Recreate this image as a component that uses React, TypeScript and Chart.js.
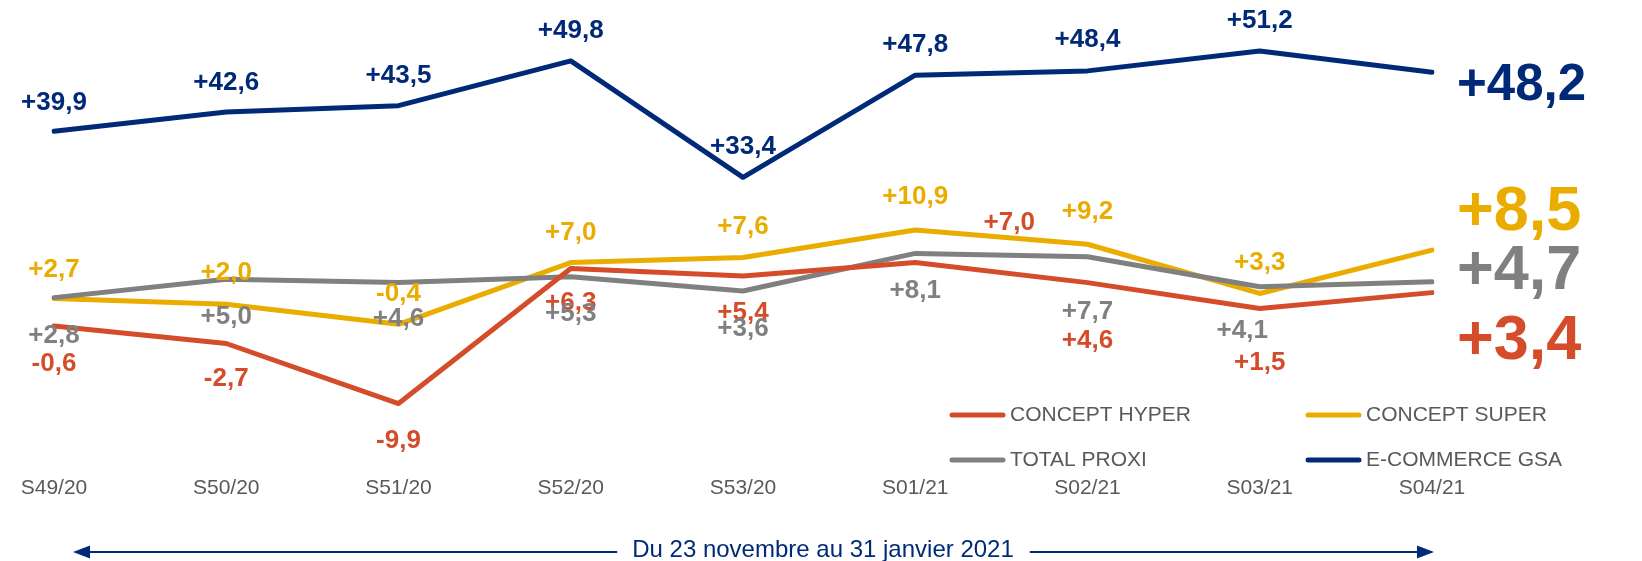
import React, { useEffect, useRef } from 'react';
import { Chart, registerables } from 'chart.js';

Chart.register(...registerables);

// ---------- data ----------
const weeks = ['S49/20', 'S50/20', 'S51/20', 'S52/20', 'S53/20', 'S01/21', 'S02/21', 'S03/21', 'S04/21'];
const conceptHyper = [-0.6, -2.7, -9.9, 6.3, 5.4, 7.0, 4.6, 1.5, 3.4];
const conceptSuper = [2.7, 2.0, -0.4, 7.0, 7.6, 10.9, 9.2, 3.3, 8.5];
const totalProxi = [2.8, 5.0, 4.6, 5.3, 3.6, 8.1, 7.7, 4.1, 4.7];
const ecommerceGsa = [39.9, 42.6, 43.5, 49.8, 33.4, 47.8, 48.4, 51.2, 48.2];
const seriesNames = ['CONCEPT HYPER', 'CONCEPT SUPER', 'TOTAL PROXI', 'E-COMMERCE GSA'];
const periodText = 'Du 23 novembre au 31 janvier 2021';

// ---------- styles ----------
const NAVY = '#002A78';
const YELLOW = '#EBAC00';
const RED = '#D44C2A';
const GRAY = '#808080';
const TEXT_GRAY = '#595959';
const FONT = '"Liberation Sans", Arial, Helvetica, sans-serif';

// label placement (pixel offsets of value labels from their point)
const labelOffsets = [
  { dx: [0, 0, 0, 0, 0, 94, 0, 0], dy: [38, 35, 37, 34, 37, -40, 58.5, 54.5] },
  { dx: [0, 0, 0, 0, 0, 0, 0, 0], dy: [-28.5, -31.8, -30, -30, -31, -33, -32, -31] },
  { dx: [0, 0, 0, 0, 0, 0, 0, -17.5], dy: [38.4, 37.4, 36.4, 37, 38, 37.4, 54.7, 44] },
  { dx: [0, 0, 0, 0, 0, 0, 0, 0], dy: [-28, -29, -30, -30, -30.6, -30.5, -31, -30] },
];
const endLabelDx = 25;
const endLabelDy = [49.4, -37.8, -9.8, 13.7];
const endLabelSizes = [63, 63, 63, 51];
const labelDrawOrder = [0, 1, 2, 3];

const fmt = (v: number) => (v > 0 ? '+' : '') + v.toFixed(1).replace('.', ',');

const valueLabelsPlugin = {
  id: 'valueLabels',
  afterDatasetsDraw(chart: any) {
    const ctx = chart.ctx;
    ctx.save();
    ctx.textBaseline = 'middle';
    for (const i of labelDrawOrder) {
      const ds = chart.data.datasets[i];
      const pts = chart.getDatasetMeta(i).data;
      const off = labelOffsets[i];
      const n = pts.length;
      ctx.fillStyle = ds.borderColor;
      ctx.font = `bold 26px ${FONT}`;
      ctx.textAlign = 'center';
      for (let j = 0; j < n - 1; j++) {
        const p = pts[j];
        ctx.fillText(fmt(ds.data[j]), p.x + off.dx[j], p.y + off.dy[j]);
      }
      const last = pts[n - 1];
      ctx.font = `bold ${endLabelSizes[i]}px ${FONT}`;
      ctx.textAlign = 'left';
      ctx.fillText(fmt(ds.data[n - 1]), last.x + endLabelDx, last.y + endLabelDy[i]);
    }
    ctx.restore();
  },
};

const legendGrid = [
  { ds: 0, col: 0, row: 0 },
  { ds: 1, col: 1, row: 0 },
  { ds: 2, col: 0, row: 1 },
  { ds: 3, col: 1, row: 1 },
];

const extrasPlugin = {
  id: 'extras',
  afterDraw(chart: any) {
    const ctx = chart.ctx;
    const area = chart.chartArea;
    ctx.save();
    // legend
    const colX = [area.right - 482, area.right - 126];
    const rowY = [area.bottom - 58, area.bottom - 13];
    ctx.font = `21px ${FONT}`;
    ctx.textBaseline = 'middle';
    ctx.textAlign = 'left';
    for (const item of legendGrid) {
      const ds = chart.data.datasets[item.ds];
      const x = colX[item.col];
      const y = rowY[item.row];
      ctx.strokeStyle = ds.borderColor;
      ctx.lineWidth = 5;
      ctx.lineCap = 'round';
      ctx.beginPath();
      ctx.moveTo(x + 2, y);
      ctx.lineTo(x + 53, y);
      ctx.stroke();
      ctx.fillStyle = TEXT_GRAY;
      ctx.fillText(ds.label, x + 60, y);
    }
    // period arrow
    const ay = area.bottom + 79;
    const leftTip = area.left + 19;
    const rightTip = area.right + 2;
    const textX = area.left + 769;
    ctx.font = `24px ${FONT}`;
    const tw = ctx.measureText(periodText).width;
    ctx.fillStyle = NAVY;
    ctx.strokeStyle = NAVY;
    ctx.lineWidth = 2;
    ctx.lineCap = 'butt';
    ctx.beginPath();
    ctx.moveTo(leftTip + 15, ay);
    ctx.lineTo(textX - tw / 2 - 15, ay);
    ctx.moveTo(textX + tw / 2 + 16, ay);
    ctx.lineTo(rightTip - 15, ay);
    ctx.stroke();
    ctx.beginPath();
    ctx.moveTo(leftTip, ay);
    ctx.lineTo(leftTip + 17, ay - 6.5);
    ctx.lineTo(leftTip + 17, ay + 6.5);
    ctx.closePath();
    ctx.fill();
    ctx.beginPath();
    ctx.moveTo(rightTip, ay);
    ctx.lineTo(rightTip - 17, ay - 6.5);
    ctx.lineTo(rightTip - 17, ay + 6.5);
    ctx.closePath();
    ctx.fill();
    ctx.textAlign = 'center';
    ctx.fillText(periodText, textX, ay - 2);
    ctx.restore();
  },
};

export default function App() {
  const canvasRef = useRef<HTMLCanvasElement | null>(null);

  useEffect(() => {
    const canvas = canvasRef.current;
    if (!canvas) return;
    const lineStyle = {
      borderWidth: 5,
      pointRadius: 0,
      pointHoverRadius: 0,
      borderCapStyle: 'round' as const,
      borderJoinStyle: 'round' as const,
      tension: 0,
      fill: false,
    };
    const chart = new Chart(canvas, {
      type: 'line',
      data: {
        labels: weeks,
        datasets: [
          { ...lineStyle, label: seriesNames[0], data: conceptHyper, borderColor: RED, backgroundColor: RED, yAxisID: 'y2', order: 0 },
          { ...lineStyle, label: seriesNames[1], data: conceptSuper, borderColor: YELLOW, backgroundColor: YELLOW, yAxisID: 'y2', order: 2 },
          { ...lineStyle, label: seriesNames[2], data: totalProxi, borderColor: GRAY, backgroundColor: GRAY, yAxisID: 'y2', order: 1 },
          { ...lineStyle, label: seriesNames[3], data: ecommerceGsa, borderColor: NAVY, backgroundColor: NAVY, yAxisID: 'y', order: 3 },
        ],
      },
      options: {
        responsive: false,
        animation: false,
        events: [],
        layout: { padding: { left: 54, right: 210, top: 20, bottom: 56.8 } },
        plugins: {
          legend: { display: false },
          tooltip: { enabled: false },
        },
        scales: {
          x: {
            type: 'category',
            offset: false,
            grid: { display: false, drawTicks: false },
            border: { display: false },
            ticks: {
              color: TEXT_GRAY,
              font: { family: FONT, size: 21 },
              padding: 3,
              maxRotation: 0,
              autoSkip: false,
            },
          },
          y: { display: false, min: -8.27, max: 55.57 },
          y2: { display: false, min: -18.23, max: 36.09 },
        },
      },
      plugins: [valueLabelsPlugin, extrasPlugin],
    });
    return () => chart.destroy();
  }, []);

  return (
    <div style={{ position: 'absolute', left: 0, top: 0, width: 1642, height: 561, background: '#fff' }}>
      <canvas ref={canvasRef} width={1642} height={561} style={{ display: 'block' }} />
    </div>
  );
}
